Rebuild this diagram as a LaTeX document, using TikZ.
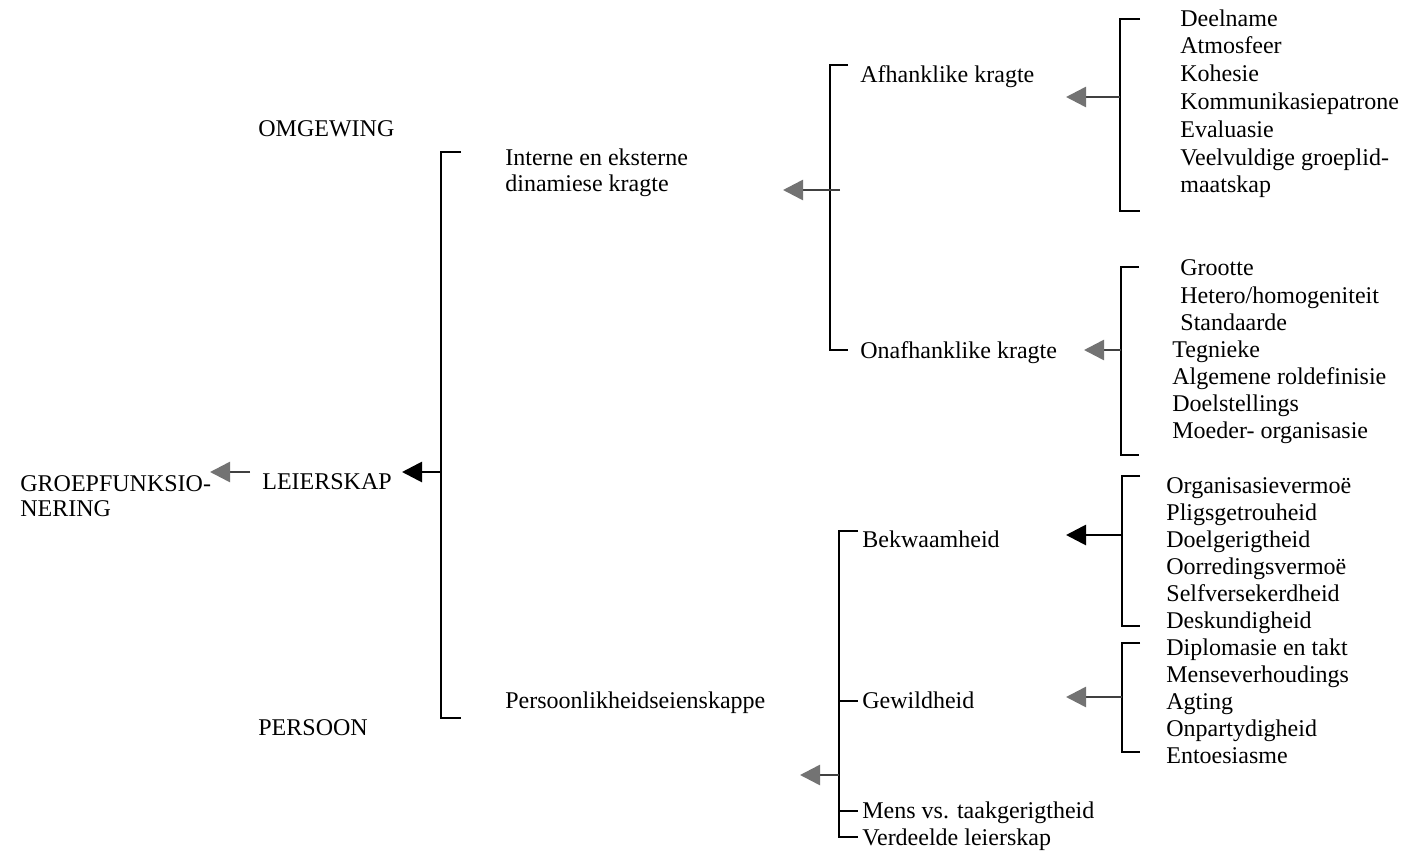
\documentclass[tikz,border=0pt]{standalone}
\usepackage{fontspec}
\setmainfont{Liberation Serif}
\usetikzlibrary{arrows.meta}

\tikzset{
  lbl/.style={anchor=base west, inner sep=0pt, font=\fontsize{12}{13.6}\selectfont},
  brk/.style={line width=0.75pt},
  garrow/.style={line width=1.3pt, black!75, -{Triangle[length=10pt,width=10pt,color=black!55]}},
  barrow/.style={line width=1.4pt, -{Triangle[length=10pt,width=10pt]}},
}

\begin{document}
\begin{tikzpicture}[x=0.5pt, y=-0.5pt]
	\useasboundingbox (0,0) rectangle (1404,851);
	% left column
	\node[lbl] (groep) at (20,491) {GROEPFUNKSIO-};
	\node[lbl] (groep2) at (20,516) {NERING};
	\node[lbl] (lei) at (262,489) {LEIERSKAP};
	\node[lbl] (omg) at (258,136) {OMGEWING};
	\node[lbl] (pers) at (258,735) {PERSOON};
	\coordinate (tgroep) at (210,472);
	\coordinate (slei) at (250,472);
	\draw [garrow] (slei) -- (tgroep);
	% big bracket
	\draw [brk] (461,152) -- (441,152) -- (441,718) -- (461,718);
	\coordinate (jlei) at (441,472);
	\coordinate (tlei) at (402,472);
	\draw [barrow] (jlei) -- (tlei);
	\node[lbl] (int) at (505,165) {Interne en eksterne};
	\node[lbl] (int2) at (505,191) {dinamiese kragte};
	\node[lbl] (pls) at (505,708) {Persoonlikheidseienskappe};
	% kragte
	\draw [brk] (848,65) -- (830,65) -- (830,350) -- (848,350);
	\coordinate (jkr) at (840,190);
	\coordinate (tkr) at (783,190);
	\draw [garrow] (jkr) -- (tkr);
	\node[lbl] (afh) at (860,83) {Afhanklike kragte};
	\node[lbl] (onafh) at (860,358) {Onafhanklike kragte};
	% persoonlikheid
	\draw [brk] (858,531) -- (839,531) -- (839,837) -- (858,837);
	\draw [brk] (839,701) -- (858,701) (839,811) -- (858,811);
	\coordinate (jpe) at (839,775);
	\coordinate (tpe) at (800,775);
	\draw [garrow] (jpe) -- (tpe);
	\node[lbl] (bek) at (862,547) {Bekwaamheid};
	\node[lbl] (gew) at (862,708) {Gewildheid};
	\node[lbl] (mens) at (862,818) {Mens vs. taakgerigtheid};
	\node[lbl] (verd) at (862,845) {Verdeelde leierskap};
	% lists on the right
	\draw [brk] (1140,19) -- (1120,19) -- (1120,211) -- (1140,211);
	\coordinate (jafh) at (1120,97);
	\coordinate (tafh) at (1066,97);
	\draw [garrow] (jafh) -- (tafh);
	\foreach \t [count=\i] in {Deelname, Atmosfeer, Kohesie, Kommunikasiepatrone, Evaluasie, Veelvuldige groeplid-, maatskap}
		\node[lbl] (afh\i) at (1180,{26+27.8*(\i-1)}) {\t};

	\draw [brk] (1139,267) -- (1121,267) -- (1121,455) -- (1139,455);
	\coordinate (jona) at (1121,350);
	\coordinate (tona) at (1084,350);
	\draw [garrow] (jona) -- (tona);
	\node[lbl] (ona1) at (1180,275) {Grootte};
	\node[lbl] (ona2) at (1180,303) {Hetero/homogeniteit};
	\node[lbl] (ona3) at (1180,330) {Standaarde};
	\node[lbl] (ona4) at (1172,357) {Tegnieke};
	\node[lbl] (ona5) at (1172,384) {Algemene roldefinisie};
	\node[lbl] (ona6) at (1172,411) {Doelstellings};
	\node[lbl] (ona7) at (1172,438) {Moeder- organisasie};

	\draw [brk] (1140,476) -- (1122,476) -- (1122,626) -- (1140,626);
	\coordinate (jbek) at (1122,535);
	\coordinate (tbek) at (1066,535);
	\draw [barrow] (jbek) -- (tbek);
	\foreach \t [count=\i] in {Organisasievermoë, Pligsgetrouheid, Doelgerigtheid, Oorredingsvermoë, Selfversekerdheid, Deskundigheid}
		\node[lbl] (bek\i) at (1166,{493+27*(\i-1)}) {\t};

	\draw [brk] (1140,643) -- (1122,643) -- (1122,752) -- (1140,752);
	\coordinate (jgew) at (1122,697);
	\coordinate (tgew) at (1066,697);
	\draw [garrow] (jgew) -- (tgew);
	\foreach \t [count=\i] in {Diplomasie en takt, Menseverhoudings, Agting, Onpartydigheid, Entoesiasme}
		\node[lbl] (gew\i) at (1166,{655+27.2*(\i-1)}) {\t};
\end{tikzpicture}
\end{document}
